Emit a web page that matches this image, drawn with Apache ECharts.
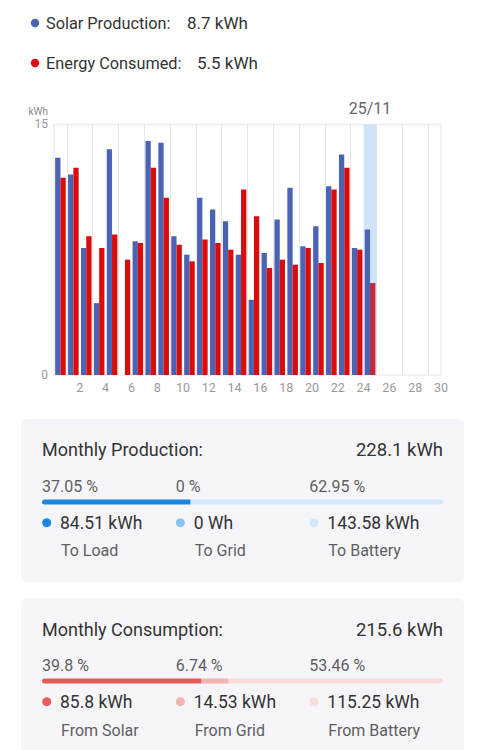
<!DOCTYPE html>
<html>
<head>
<meta charset="utf-8">
<script src="https://cdn.jsdelivr.net/npm/echarts@6/dist/echarts.min.js"></script>
<style>
html,body{margin:0;padding:0;background:#fff;}
#chart{width:485px;height:750px;}
</style>
</head>
<body>
<div id="chart"></div>
<script>
// ---- data ----
const days = ['1','2','3','4','5','6','7','8','9','10','11','12','13','14','15','16','17','18','19','20','21','22','23','24','25','26','27','28','29','30'];
const solar = [13.0, 12.0, 7.6, 4.3, 13.5, 0, 8.0, 14.0, 13.9, 8.3, 7.2, 10.6, 9.9, 9.2, 7.2, 4.5, 7.3, 9.3, 11.2, 7.7, 8.9, 11.3, 13.2, 7.6, 8.7, null, null, null, null, null];
const consumed = [11.8, 12.4, 8.3, 7.6, 8.4, 6.9, 7.9, 12.4, 10.6, 7.8, 6.8, 8.1, 7.9, 7.5, 11.1, 9.5, 6.4, 6.9, 6.6, 7.6, 6.7, 11.1, 12.4, 7.5, 5.5, null, null, null, null, null];
const selectedDay = 25;
const selectedLabel = '25/11';
const yTicks = [0, 15];

const prodTitle = 'Monthly Production:';
const prodTotal = '228.1 kWh';
const prodPct = [37.05, 0, 62.95];
const prodVals = ['84.51 kWh', '0 Wh', '143.58 kWh'];
const prodLabels = ['To Load', 'To Grid', 'To Battery'];

const consTitle = 'Monthly Consumption:';
const consTotal = '215.6 kWh';
const consPct = [39.8, 6.74, 53.46];
const consVals = ['85.8 kWh', '14.53 kWh', '115.25 kWh'];
const consLabels = ['From Solar', 'From Grid', 'From Battery'];

// ---- styles ----
const FONT = 'Roboto, "Noto Sans", sans-serif';
const BLUE = '#4b63b2';
const RED = '#da0b0b';
const RED_SEL = '#c4283d';
const prodColors = ['#1a86e3', '#8cc4f1', '#d3e7fa'];
const consColors = ['#e85b5b', '#f4b3b3', '#fadada'];

const chart = echarts.init(document.getElementById('chart'), null, {renderer: 'svg', width: 485, height: 750});

const sel = selectedDay - 1;
const consumedData = consumed.map((v, i) => i === sel ? {value: v, itemStyle: {color: RED_SEL}} : v);

function txt(x, y, text, size, color, align) {
  return {type: 'text', x: x, y: y, silent: true,
    style: {text: text, fill: color, fontSize: size, fontFamily: FONT, align: align || 'left', verticalAlign: 'middle'}};
}

function panel(top, height, title, total, pct, vals, labels, colors, o) {
  const els = [];
  els.push({type: 'rect', shape: {x: 21, y: top, width: 443, height: height, r: 6}, style: {fill: '#f6f6fa'}, silent: true, z: -10});
  els.push(txt(42, o.title, title, 18, '#333', 'left'));
  els.push(txt(443, o.title, total, 18.5, '#333', 'right'));
  const cols = [42, 175.7, 309.3];
  for (let i = 0; i < 3; i++) {
    els.push(txt(cols[i], o.pct, pct[i] + ' %', 16, '#5e5e5e', 'left'));
    els.push({type: 'circle', shape: {cx: cols[i] + 4.7, cy: o.val, r: 4.5}, style: {fill: colors[i]}, silent: true});
    els.push(txt(cols[i] + 18, o.val, vals[i], 17.5, '#333', 'left'));
    els.push(txt(cols[i] + 19, o.lab, labels[i], 16, '#5e5e5e', 'left'));
  }
  return els;
}

function progressSeries(pct, colors, stack) {
  return pct.map((p, i) => ({
    type: 'bar', stack: stack, barWidth: 5, silent: true,
    data: [p],
    itemStyle: {color: colors[i], borderRadius: i === 0 ? [3, 0, 0, 3] : (i === pct.length - 1 ? [0, 3, 3, 0] : 0)}
  }));
}

const graphics = [
  {type: 'circle', shape: {cx: 35, cy: 23, r: 4.2}, style: {fill: BLUE}, silent: true},
  txt(46, 23, 'Solar Production:', 16.3, '#333'),
  txt(187, 23, solar[sel] + ' kWh', 17, '#333'),
  {type: 'circle', shape: {cx: 35, cy: 63, r: 4.2}, style: {fill: RED}, silent: true},
  txt(46, 63, 'Energy Consumed:', 16.3, '#333'),
  txt(197, 63, consumed[sel] + ' kWh', 17, '#333')
].concat(
  panel(419, 163, prodTitle, prodTotal, prodPct, prodVals, prodLabels, prodColors, {title: 449.5, pct: 486, val: 522.7, lab: 550.7}),
  panel(598, 200, consTitle, consTotal, consPct, consVals, consLabels, consColors, {title: 629.5, pct: 665, val: 701.7, lab: 730})
);

const option = {
  animation: false,
  textStyle: {fontFamily: FONT},
  grid: [
    {left: 54, right: 44, top: 124.3, height: 250.7, show: true, borderColor: '#e6e6e6', borderWidth: 1, backgroundColor: 'transparent'},
    {left: 42, width: 401, top: 499.5, height: 5},
    {left: 42, width: 401, top: 678.5, height: 5}
  ],
  xAxis: [
    {type: 'category', gridIndex: 0, data: days, show: false},
    {type: 'value', gridIndex: 0, min: 0, max: 30, interval: 2, position: 'bottom',
      axisLine: {show: false}, axisTick: {show: false},
      axisLabel: {showMinLabel: false, color: '#999', fontSize: 12.5, margin: 6, fontFamily: FONT},
      splitLine: {show: false},
      minorTick: {show: false, splitNumber: 2},
      minorSplitLine: {show: true, lineStyle: {color: '#e6e6e6', width: 1}}},
    {type: 'value', gridIndex: 1, min: 0, max: 100, show: false},
    {type: 'value', gridIndex: 2, min: 0, max: 100, show: false}
  ],
  yAxis: [
    {type: 'value', gridIndex: 0, min: yTicks[0], max: yTicks[1], interval: yTicks[1] - yTicks[0],
      name: 'kWh', nameLocation: 'end', nameGap: 8,
      nameTextStyle: {color: '#888', fontSize: 10, align: 'right', padding: [0, 6, 0, 0], fontFamily: FONT},
      axisLine: {show: false}, axisTick: {show: false},
      axisLabel: {color: '#999', fontSize: 12, margin: 6, fontFamily: FONT},
      splitLine: {show: false}},
    {type: 'category', gridIndex: 1, data: ['p'], show: false},
    {type: 'category', gridIndex: 2, data: ['c'], show: false}
  ],
  graphic: graphics,
  series: [
    {type: 'line', name: 'selected', xAxisIndex: 1, yAxisIndex: 0, data: [], z: 1, silent: true,
      markArea: {silent: true, itemStyle: {color: '#cfe3f9'},
        label: {show: true, position: 'top', distance: 8, color: '#666', fontSize: 16, fontFamily: FONT, formatter: selectedLabel},
        data: [[{xAxis: selectedDay - 1}, {xAxis: selectedDay}]]}},
    {type: 'bar', name: 'Solar Production', xAxisIndex: 0, yAxisIndex: 0, data: solar, z: 3,
      itemStyle: {color: BLUE}, barGap: '0%', barCategoryGap: '18%', silent: true},
    {type: 'bar', name: 'Energy Consumed', xAxisIndex: 0, yAxisIndex: 0, data: consumedData, z: 3,
      itemStyle: {color: RED}, barGap: '0%', barCategoryGap: '18%', silent: true}
  ].concat(progressSeries(prodPct, prodColors, 'prod').map(s => Object.assign(s, {xAxisIndex: 2, yAxisIndex: 1})),
           progressSeries(consPct, consColors, 'cons').map(s => Object.assign(s, {xAxisIndex: 3, yAxisIndex: 2})))
};
chart.setOption(option);
</script>
</body>
</html>
